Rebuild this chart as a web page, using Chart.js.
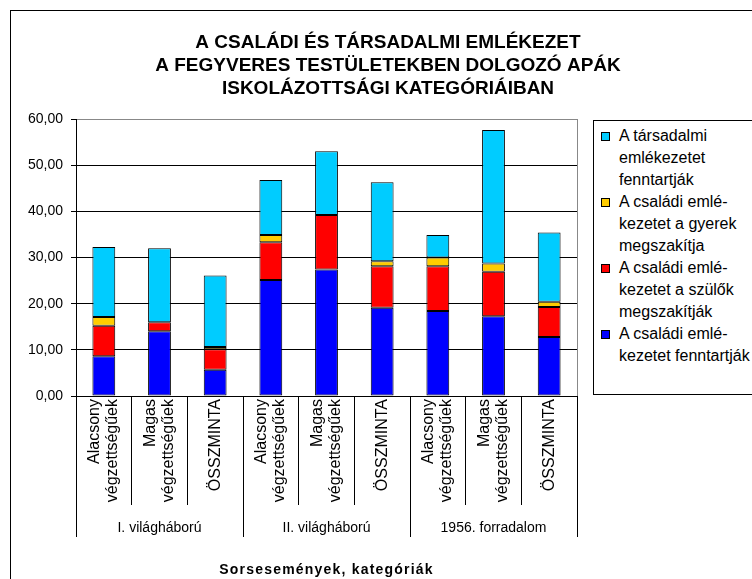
<!DOCTYPE html>
<html>
<head>
<meta charset="utf-8">
<script src="https://cdn.jsdelivr.net/npm/chart.js"></script>
<style>
  html, body { margin:0; padding:0; background:#fff; width:752px; height:579px; overflow:hidden; }
  #frame { position:absolute; left:10px; top:10px; border-left:1px solid #000; border-top:1px solid #000; width:754px; height:568px; }
  #c { display:block; }
  #legend { position:absolute; left:593px; top:120px; width:230px; height:275px; border:1px solid #000; background:#fff;
            font-family: Arial, "Liberation Sans", sans-serif; font-size:16px; line-height:22px; color:#000; padding-top:4px; box-sizing:border-box; }
  .item { position:relative; padding-left:25px; white-space:pre; }
  .mk { position:absolute; left:7px; top:7px; width:7px; height:7px; border:1px solid #000; }
</style>
</head>
<body>
<div id="frame"><canvas id="c" width="754" height="568"></canvas></div>
<div id="legend"></div>
<script>
// ---- data ----
const titleLines = ["A CSALÁDI ÉS TÁRSADALMI EMLÉKEZET", "A FEGYVERES TESTÜLETEKBEN DOLGOZÓ APÁK", "ISKOLÁZOTTSÁGI KATEGÓRIÁIBAN"];
const categories = [
  ["Alacsony", "végzettségűek"], ["Magas", "végzettségűek"], "ÖSSZMINTA",
  ["Alacsony", "végzettségűek"], ["Magas", "végzettségűek"], "ÖSSZMINTA",
  ["Alacsony", "végzettségűek"], ["Magas", "végzettségűek"], "ÖSSZMINTA"
];
const groups = ["I. világháború", "II. világháború", "1956. forradalom"];
const xAxisTitle = "Sorsesemények, kategóriák";

const familyKeptParents = [8.6, 14.0, 5.7, 25.1, 27.4, 19.1, 18.4, 17.3, 12.8];
const familyBrokenParents = [6.6, 2.0, 4.4, 8.2, 11.8, 9.0, 9.7, 9.6, 6.5];
const familyBrokenChild = [1.9, 0.0, 0.5, 1.6, 0.0, 1.1, 1.9, 1.8, 1.1];
const socialKept = [15.2, 16.0, 15.5, 11.9, 13.8, 17.1, 4.9, 28.9, 15.0];

const seriesNames = [
  "A családi emlé-\nkezetet fenntartják",
  "A családi emlé-\nkezetet a szülők\nmegszakítják",
  "A családi emlé-\nkezetet a gyerek\nmegszakítja",
  "A társadalmi\nemlékezetet\nfenntartják"
];
const yTicks = [0, 10, 20, 30, 40, 50, 60];

// ---- styles ----
const colors = ["#0000FF", "#FF0000", "#FFCC00", "#00CCFF"];
const seriesValues = [familyKeptParents, familyBrokenParents, familyBrokenChild, socialKept];

Chart.defaults.font.family = 'Arial, "Liberation Sans", sans-serif';
Chart.defaults.color = '#000';

const datasets = seriesValues.map((vals, i) => ({
  label: seriesNames[i],
  data: vals,
  backgroundColor: colors[i],
  borderColor: '#000',
  borderWidth: 1,
  borderSkipped: false,
  categoryPercentage: 1.0,
  barPercentage: 0.41,
  xAxisID: 'x',
  yAxisID: 'y'
}));

const plotBorder = {
  id: 'plotBorder',
  afterLayout(chart) {
    const s = chart.scales.x2;
    if (s && !s._lsWrapped) {
      const orig = s.drawTitle.bind(s);
      s.drawTitle = function () {
        const ctx = this.ctx;
        const prev = ctx.letterSpacing;
        ctx.letterSpacing = '1.2px';
        orig();
        ctx.letterSpacing = prev || '0px';
      };
      s._lsWrapped = true;
    }
  },
  afterDraw(chart) {
    const a = chart.chartArea, ctx = chart.ctx;
    ctx.save();
    ctx.strokeStyle = '#888';
    ctx.lineWidth = 1;
    ctx.beginPath();
    ctx.moveTo(Math.round(a.right) + 0.5, a.top);
    ctx.lineTo(Math.round(a.right) + 0.5, a.bottom);
    ctx.stroke();
    ctx.restore();
  }
};

new Chart(document.getElementById('c'), {
  type: 'bar',
  data: { labels: categories, datasets },
  plugins: [plotBorder],
  options: {
    responsive: false,
    animation: false,
    devicePixelRatio: 1,
    layout: { padding: 0 },
    plugins: {
      legend: { display: false },
      tooltip: { enabled: false },
      title: {
        display: true,
        text: titleLines,
        color: '#000',
        font: { size: 19, weight: 'bold', lineHeight: '23px' },
        padding: { top: 20, bottom: 19 }
      }
    },
    scales: {
      x: {
        type: 'category',
        position: 'bottom',
        stacked: true,
        offset: true,
        weight: 0,
        grid: { offset: true, drawOnChartArea: false, drawTicks: true, tickLength: 109, color: '#000', tickColor: '#000', lineWidth: 1 },
        border: { display: true, color: '#000' },
        ticks: {
          autoSkip: false, maxRotation: 90, minRotation: 90,
          padding: -106, labelOffset: -9,
          font: { size: 16, lineHeight: 1.125 },
          color: '#000',
          showLabelBackdrop: (ctx) => !Array.isArray(categories[ctx.index]),
          backdropColor: 'rgba(0,0,0,0)',
          backdropPadding: 0
        },
        afterFit(s) { s.height = 109; }
      },
      x2: {
        type: 'category',
        position: 'bottom',
        labels: groups,
        offset: true,
        weight: 1,
        grid: { offset: true, drawOnChartArea: false, drawTicks: true, tickLength: 32, color: '#000', tickColor: '#000', lineWidth: 1 },
        border: { display: false },
        ticks: { autoSkip: false, maxRotation: 0, minRotation: 0, padding: -17, font: { size: 14 }, color: '#000' },
        title: { display: true, text: xAxisTitle, color: '#000', font: { size: 14, weight: 'bold' }, padding: { top: 0, bottom: 0 } },
        afterFit(s) { s.height = 74; }
      },
      y: {
        type: 'linear',
        position: 'left',
        stacked: true,
        min: yTicks[0],
        max: yTicks[yTicks.length - 1],
        afterBuildTicks(s) { s.ticks = yTicks.map(v => ({ value: v })); },
        ticks: { callback: v => v.toFixed(2).replace('.', ','), font: { size: 14 }, padding: 8, color: '#000' },
        grid: { color: (c) => (c.tick && c.tick.value === 60 ? '#888' : '#000'), tickColor: '#000', tickLength: 5, drawTicks: true, lineWidth: 1 },
        border: { display: true, color: '#000' },
        afterFit(s) { s.width = 65; }
      },
      yR: {
        type: 'linear',
        position: 'right',
        display: true,
        grid: { display: false, drawTicks: false },
        border: { display: false },
        ticks: { display: false },
        afterFit(s) { s.width = 188; }
      }
    }
  }
});

// ---- HTML legend (top-down order as in the original) ----
const leg = document.getElementById('legend');
for (let i = seriesNames.length - 1; i >= 0; i--) {
  const d = document.createElement('div');
  d.className = 'item';
  const m = document.createElement('span');
  m.className = 'mk';
  m.style.background = colors[i];
  d.appendChild(m);
  d.appendChild(document.createTextNode(seriesNames[i]));
  leg.appendChild(d);
}
</script>
</body>
</html>
